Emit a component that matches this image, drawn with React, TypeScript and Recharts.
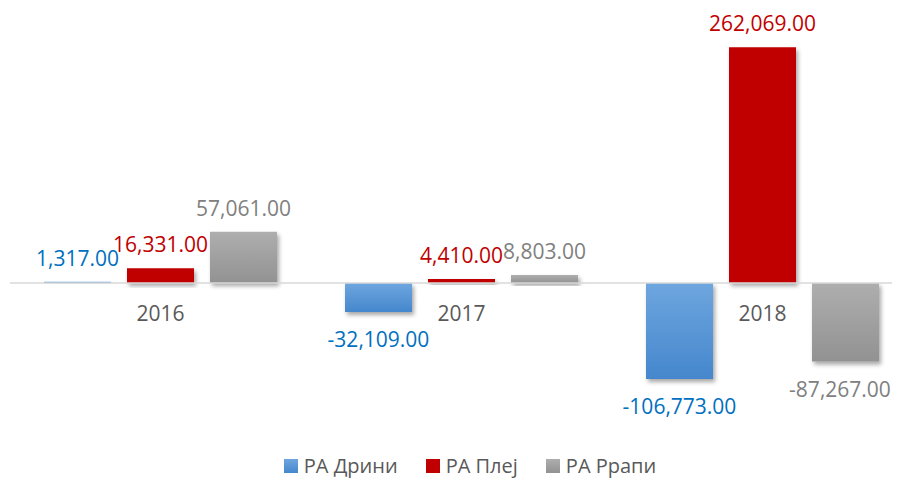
import React from 'react';
import { BarChart, Bar, XAxis, YAxis, LabelList, ReferenceLine, Legend } from 'recharts';

const categories = ['2016', '2017', '2018'];
const drini = [1317, -32109, -106773];
const plej = [16331, 4410, 262069];
const rrapi = [57061, 8803, -87267];
const seriesNames = ['РА Дрини', 'РА Плеј', 'РА Ррапи'];

const data = categories.map((c, i) => ({ cat: c, drini: drini[i], plej: plej[i], rrapi: rrapi[i] }));

const FONT = '"Open Sans", "Noto Sans", sans-serif';
const fmt = (v: number) => v.toLocaleString('en-US', { minimumFractionDigits: 2, maximumFractionDigits: 2 });

const RIGHT_LIMIT = 888;

const makeValueLabel = (color: string) => (props: any) => {
  const { x, y, width, height, value } = props;
  const y1 = Number(y);
  const y2 = Number(y) + Number(height);
  const top = Math.min(y1, y2);
  const bottom = Math.max(y1, y2);
  const v = Number(value);
  const ty = v >= 0 ? top - 16 : bottom + 35;
  const text = fmt(v);
  const estW = text.length * 11.2;
  let cx = Number(x) + Number(width) / 2;
  if (cx + estW / 2 > RIGHT_LIMIT) cx = RIGHT_LIMIT - estW / 2;
  return (
    <text x={cx} y={ty} textAnchor="middle" fill={color} fontSize={21} fontFamily={FONT}>
      {text}
    </text>
  );
};

const CategoryLabel = (props: any) => {
  const { x, y, width, height, value } = props;
  const y1 = Number(y);
  const y2 = Number(y) + Number(height);
  const zero = Math.max(y1, y2);
  return (
    <text x={Number(x) + Number(width) / 2} y={zero + 38} textAnchor="middle" fill="#595959" fontSize={21} fontFamily={FONT}>
      {value}
    </text>
  );
};

const legendFills = ['url(#gBlue)', '#C00000', 'url(#gGrey)'];

const LegendContent = () => (
  <div style={{ display: 'flex', justifyContent: 'center', alignItems: 'center', height: 32, paddingLeft: 14, fontFamily: FONT, fontSize: 20, lineHeight: '32px', color: '#595959' }}>
    {seriesNames.map((n, i) => (
      <div key={n} style={{ display: 'flex', alignItems: 'center', marginRight: i < 2 ? 28 : 0 }}>
        <svg width={14} height={14} style={{ marginRight: 6 }}>
          <rect x={0} y={0} width={14} height={14} fill={legendFills[i]} />
        </svg>
        <span>{n}</span>
      </div>
    ))}
  </div>
);

export default function App() {
  return (
    <div style={{ width: 892, height: 470, overflow: 'hidden', position: 'relative' }}>
      <svg width={0} height={0} style={{ position: 'absolute' }}>
        <defs>
          <linearGradient id="gBlue" x1="0" y1="0" x2="0" y2="1">
            <stop offset="0%" stopColor="#6EA6DF" />
            <stop offset="100%" stopColor="#4587CD" />
          </linearGradient>
          <linearGradient id="gGrey" x1="0" y1="0" x2="0" y2="1">
            <stop offset="0%" stopColor="#AEAEAE" />
            <stop offset="100%" stopColor="#929292" />
          </linearGradient>
          <filter id="shadow" x="-20%" y="-20%" width="150%" height="150%">
            <feDropShadow dx="2" dy="3" stdDeviation="2" floodColor="#000" floodOpacity="0.35" />
          </filter>
        </defs>
      </svg>
      <BarChart
        width={910}
        height={470}
        data={data}
        margin={{ top: 23, right: 5, left: 2, bottom: 55 }}
        barCategoryGap={34}
        barGap={16}
        barSize={67}
      >
        <XAxis dataKey="cat" hide />
        <YAxis hide domain={[-120000, 280000]} />
        <ReferenceLine y={0} stroke="#D9D9D9" strokeWidth={1.5} />
        <Bar dataKey="drini" name={seriesNames[0]} fill="url(#gBlue)" filter="url(#shadow)" isAnimationActive={false}>
          <LabelList dataKey="drini" content={makeValueLabel('#0070C0')} />
        </Bar>
        <Bar dataKey="plej" name={seriesNames[1]} fill="#C00000" filter="url(#shadow)" isAnimationActive={false}>
          <LabelList dataKey="plej" content={makeValueLabel('#C00000')} />
          <LabelList dataKey="cat" content={CategoryLabel} />
        </Bar>
        <Bar dataKey="rrapi" name={seriesNames[2]} fill="url(#gGrey)" filter="url(#shadow)" isAnimationActive={false}>
          <LabelList dataKey="rrapi" content={makeValueLabel('#808080')} />
        </Bar>
        <Legend content={LegendContent} wrapperStyle={{ position: 'absolute', top: 442, left: 0, width: 910, height: 32 }} />
      </BarChart>
    </div>
  );
}
